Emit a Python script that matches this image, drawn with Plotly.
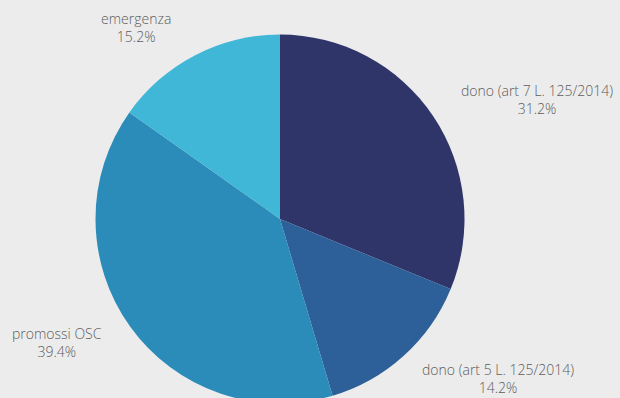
import plotly.graph_objects as go

# Share of funds by type of initiative
categories = ["dono (art 7 L. 125/2014)", "dono (art 5 L. 125/2014)", "promossi OSC", "emergenza"]
shares = [31.2, 14.2, 39.4, 15.2]
colors = ["#2f3469", "#2d5f98", "#2b8cba", "#41b7d8"]

# Label anchor points in pixels (centre of each two-line label)
label_xy = [(537, 99), (498, 378), (57, 342), (136, 27)]

W, H = 620, 404
bg = "#ececec"

fig = go.Figure(
    go.Pie(
        labels=categories,
        values=shares,
        sort=False,
        direction="clockwise",
        rotation=0,
        marker=dict(colors=colors, line=dict(width=0)),
        textinfo="none",
        hoverinfo="label+percent",
        showlegend=False,
        domain=dict(x=[95.5 / W, 464.5 / W], y=[(H - 403.5) / H, (H - 34.5) / H]),
    )
)

for name, val, (px, py) in zip(categories, shares, label_xy):
    fig.add_annotation(
        x=px / W,
        y=1 - py / H,
        xref="paper",
        yref="paper",
        xanchor="center",
        yanchor="middle",
        text=f"{name}<br>{val:.1f}%",
        showarrow=False,
        align="center",
        font=dict(family="Open Sans", size=14, color="#5c5c5c", weight=300),
    )

fig.update_layout(
    width=W,
    height=H,
    margin=dict(l=0, r=0, t=0, b=0),
    paper_bgcolor=bg,
    plot_bgcolor=bg,
)

fig.write_html(
    "out.html",
    post_script="document.documentElement.style.overflow='hidden';document.body.style.overflow='hidden';document.body.style.margin='0';",
)
